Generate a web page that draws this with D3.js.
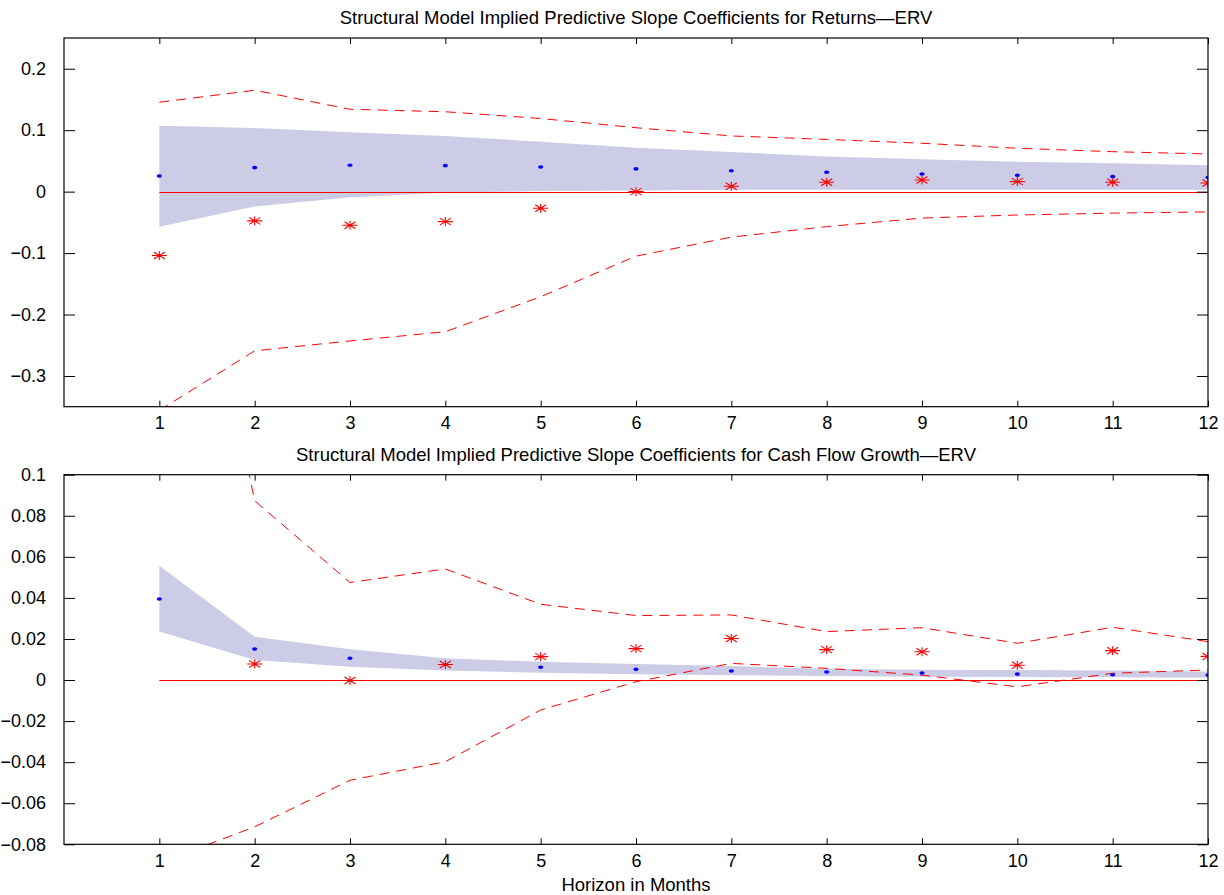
<!DOCTYPE html>
<html>
<head>
<meta charset="utf-8">
<script src="https://cdnjs.cloudflare.com/ajax/libs/d3/7.8.5/d3.min.js"></script>
<style>
	body { margin: 0; background: #fff; }
	text { font-family: "Liberation Sans", Arial, Helvetica, sans-serif; fill: #000; }
</style>
</head>
<body>
<script>
var w = 1224;
var h = 895;

var horizons = [1, 2, 3, 4, 5, 6, 7, 8, 9, 10, 11, 12];
var xTicks = [1, 2, 3, 4, 5, 6, 7, 8, 9, 10, 11, 12];

// returns panel
var retTitle = "Structural Model Implied Predictive Slope Coefficients for Returns\u2014ERV";
var retModel = [0.0255, 0.039, 0.043, 0.0423, 0.040, 0.037, 0.034, 0.0315, 0.0288, 0.0267, 0.0244, 0.0228];
var retBandHi = [0.107, 0.1036, 0.0966, 0.0906, 0.0813, 0.0716, 0.0646, 0.057, 0.0527, 0.0488, 0.046, 0.043];
var retBandLo = [-0.057, -0.0244, -0.009, -0.002, 0.001, 0.002, 0.003, 0.003, 0.003, 0.003, 0.003, 0.003];
var retEst = [-0.104, -0.0476, -0.0547, -0.0488, -0.027, 0.0, 0.0088, 0.0153, 0.019, 0.0163, 0.0153, 0.014];
var retCiHi = [0.1454, 0.165, 0.134, 0.130, 0.119, 0.104, 0.0906, 0.085, 0.0787, 0.0706, 0.065, 0.0613];
var retCiLo = [-0.356, -0.259, -0.243, -0.228, -0.171, -0.105, -0.074, -0.057, -0.043, -0.038, -0.035, -0.033];
var retYDomain = [-0.35, 0.25];
var retYTicks = [0.2, 0.1, 0, -0.1, -0.2, -0.3];

// cash flow growth panel
var cfTitle = "Structural Model Implied Predictive Slope Coefficients for Cash Flow Growth\u2014ERV";
var cfModel = [0.0395, 0.0151, 0.0106, 0.0076, 0.0062, 0.0052, 0.0044, 0.0039, 0.0034, 0.0029, 0.0026, 0.0024];
var cfBandHi = [0.0556, 0.0211, 0.015, 0.0106, 0.0089, 0.0078, 0.0068, 0.0055, 0.005, 0.0049, 0.0046, 0.0042];
var cfBandLo = [0.0236, 0.0098, 0.0065, 0.0046, 0.0036, 0.0028, 0.0023, 0.002, 0.0016, 0.0015, 0.0013, 0.0011];
var cfEst = [0.13, 0.0078, -0.0002, 0.0076, 0.0114, 0.0153, 0.0202, 0.0148, 0.0138, 0.0072, 0.0143, 0.0115];
var cfCiHi = [0.314, 0.0873, 0.0475, 0.0541, 0.0369, 0.0314, 0.0317, 0.0236, 0.0255, 0.0179, 0.0257, 0.0187];
var cfCiLo = [-0.089, -0.0715, -0.0488, -0.0398, -0.0146, -0.0008, 0.0081, 0.0057, 0.0024, -0.0033, 0.0033, 0.0049];
var cfYDomain = [-0.08, 0.1];
var cfYTicks = [0.1, 0.08, 0.06, 0.04, 0.02, 0, -0.02, -0.04, -0.06, -0.08];

var xLabel = "Horizon in Months";

var svg = d3.select("body")
	.append("svg")
	.attr("width", w)
	.attr("height", h);

var left = 64, right = 1208;

function fmt(v){
	var s = d3.format("~g")(Math.abs(v));
	return v < 0 ? "\u2212" + s : s;
}

function drawPanel(id, top, bottom, title, yDomain, yTicks, model, bandHi, bandLo, est, ciHi, ciLo){
	var x = d3.scaleLinear().domain([0, 12]).range([left, right]);
	var y = d3.scaleLinear().domain(yDomain).range([bottom, top]);

	var g = svg.append("g").attr("class", id);

	g.append("clipPath")
		.attr("id", "clip-" + id)
		.append("rect")
		.attr("x", left)
		.attr("y", top)
		.attr("width", right - left)
		.attr("height", bottom - top);

	var plot = g.append("g").attr("clip-path", "url(#clip-" + id + ")");

	// shaded band
	var area = d3.area()
		.x(function(d, i){ return x(horizons[i]); })
		.y0(function(d, i){ return y(bandLo[i]); })
		.y1(function(d, i){ return y(bandHi[i]); });
	plot.append("path")
		.datum(bandHi)
		.attr("d", area)
		.attr("fill", "rgb(204,204,230)")
		.attr("stroke", "none");

	// zero line
	var y0 = Math.round(y(0)) + 0.5;
	plot.append("line")
		.attr("x1", x(horizons[0]))
		.attr("x2", x(horizons[horizons.length - 1]))
		.attr("y1", y0)
		.attr("y2", y0)
		.attr("stroke", "red")
		.attr("stroke-width", 1.2);

	// dashed bounds
	var line = d3.line()
		.x(function(d, i){ return x(horizons[i]); })
		.y(function(d){ return y(d); });
	[ciHi, ciLo].forEach(function(s){
		plot.append("path")
			.datum(s)
			.attr("d", line)
			.attr("fill", "none")
			.attr("stroke", "red")
			.attr("stroke-width", 1)
			.attr("stroke-dasharray", "10,7");
	});

	// blue model points
	plot.selectAll(".dot")
		.data(model)
		.enter()
		.append("ellipse")
		.attr("class", "dot")
		.attr("cx", function(d, i){ return x(horizons[i]); })
		.attr("cy", function(d){ return y(d); })
		.attr("rx", 2.6)
		.attr("ry", 1.8)
		.attr("fill", "blue");

	// red estimate stars
	var star = "M-7.5,0L7.5,0M0,-4.5L0,4.5M-5.5,-3.5L5.5,3.5M-5.5,3.5L5.5,-3.5";
	plot.selectAll(".star")
		.data(est)
		.enter()
		.append("path")
		.attr("class", "star")
		.attr("transform", function(d, i){ return "translate(" + x(horizons[i]) + "," + y(d) + ")"; })
		.attr("d", star)
		.attr("fill", "none")
		.attr("stroke", "red")
		.attr("stroke-width", 1.1);

	// axes box
	g.append("rect")
		.attr("x", left)
		.attr("y", top)
		.attr("width", right - left)
		.attr("height", bottom - top)
		.attr("fill", "none")
		.attr("stroke", "#000")
		.attr("stroke-width", 1.2);

	// inward ticks with d3 axes
	var axB = d3.axisBottom(x).tickValues(xTicks).tickSize(-6).tickPadding(10).tickFormat(d3.format("d"));
	var axT = d3.axisTop(x).tickValues(xTicks).tickSize(-6).tickFormat("");
	var axL = d3.axisLeft(y).tickValues(yTicks).tickSize(-11).tickPadding(18).tickFormat(fmt);
	var axR = d3.axisRight(y).tickValues(yTicks).tickSize(-11).tickFormat("");

	[[axB, "translate(0," + bottom + ")"], [axT, "translate(0," + top + ")"],
	 [axL, "translate(" + left + ",0)"], [axR, "translate(" + right + ",0)"]].forEach(function(a){
		var ax = g.append("g").attr("transform", a[1]).call(a[0]);
		ax.select(".domain").remove();
		ax.selectAll("line").attr("stroke", "#000").attr("stroke-width", 1);
		ax.selectAll("text")
			.attr("font-size", 18)
			.attr("font-family", "Liberation Sans, Arial, sans-serif")
			.attr("fill", "#000");
	});

	g.append("text")
		.text(title)
		.attr("x", (left + right) / 2)
		.attr("y", top - 14)
		.attr("text-anchor", "middle")
		.attr("font-size", 18.5);
}

drawPanel("ret", 38, 406.7, retTitle, retYDomain, retYTicks, retModel, retBandHi, retBandLo, retEst, retCiHi, retCiLo);
drawPanel("cf", 474.7, 844.3, cfTitle, cfYDomain, cfYTicks, cfModel, cfBandHi, cfBandLo, cfEst, cfCiHi, cfCiLo);

svg.append("text")
	.text(xLabel)
	.attr("x", (left + right) / 2)
	.attr("y", 891)
	.attr("text-anchor", "middle")
	.attr("font-size", 18.5);
</script>
</body>
</html>
